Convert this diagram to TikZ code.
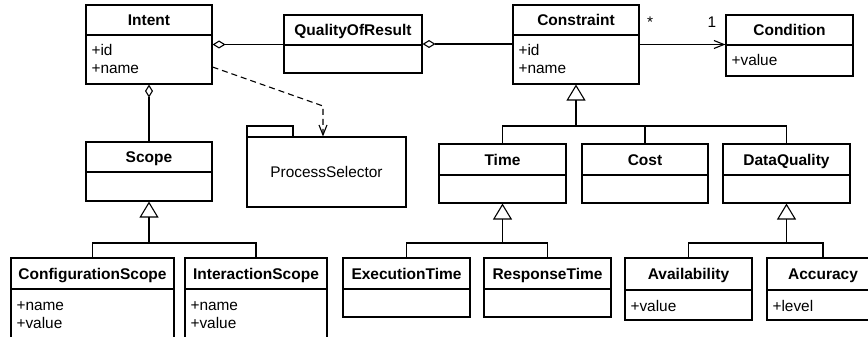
\documentclass[tikz,border=0pt]{standalone}
\usepackage{fontspec}
\setmainfont{Liberation Sans}
\usetikzlibrary{arrows.meta,fit,calc}
\newcommand\umlcls[7]{% name, x1,y1,x2,y2, ysep, title
  \node[cls, fit={(#2,#3) (#4,#5)}] (#1) {};
  \draw (#2,#6) -- (#4,#6);
  \node[ttl] (#1-t) at ($(#2,#3)!0.5!(#4,#6)+(0,5.7)$) {#7};
}
\begin{document}
\begin{tikzpicture}[x=1pt,y=-1pt, line width=1.1pt,
  cls/.style={draw, inner sep=0pt, line width=1.1pt},
  ttl/.style={font=\fontsize{15.5}{18}\selectfont\bfseries, anchor=base, inner sep=0pt},
  att/.style={font=\fontsize{15.4}{18}\selectfont, anchor=base west, inner sep=0pt},
  lbl/.style={font=\fontsize{15.4}{18}\selectfont, anchor=base, inner sep=0pt},
  agg/.style={{Diamond[open,length=13pt,width=8pt]}-},
  gen/.style={-{Triangle[open,length=16pt,width=19pt]}},
  nav/.style={-{Straight Barb[length=10pt,width=8pt]}},
  dep/.style={dash pattern=on 6pt off 4pt, -{Straight Barb[length=10pt,width=8pt]}}]
\clip (0,0) rectangle (868,337);
% classes
\umlcls{Intent}{86}{5}{212}{84}{35}{Intent}
\node[att] (Intent-a1) at (91,55.5) {+id};
\node[att] (Intent-a2) at (91,73.5) {+name};
\umlcls{QoR}{284}{15}{422}{73}{45}{QualityOfResult}
\umlcls{Constraint}{513}{5}{639}{84}{35}{Constraint}
\node[att] (Constraint-a1) at (518,55.5) {+id};
\node[att] (Constraint-a2) at (518,73.5) {+name};
\umlcls{Condition}{726}{15}{853}{76}{45}{Condition}
\node[att] (Condition-a1) at (731,65.5) {+value};
\umlcls{Scope}{86}{142}{212}{201}{172}{Scope}
\umlcls{Time}{439}{144}{566}{203}{175}{Time}
\umlcls{Cost}{582}{144}{708}{203}{175}{Cost}
\umlcls{DQ}{723}{144}{850}{203}{175}{DataQuality}
\umlcls{CS}{11}{258}{174}{350}{289}{ConfigurationScope}
\node[att] (CS-a1) at (16,310) {+name};
\node[att] (CS-a2) at (16,328) {+value};
\umlcls{IS}{185}{258}{327}{350}{289}{InteractionScope}
\node[att] (IS-a1) at (190,310) {+name};
\node[att] (IS-a2) at (190,328) {+value};
\umlcls{ET}{343}{258}{470}{317}{289}{ExecutionTime}
\umlcls{RT}{484}{258}{611}{317}{289}{ResponseTime}
\umlcls{Av}{625}{258}{752}{320}{290}{Availability}
\node[att] (Av-a1) at (630,311) {+value};
\umlcls{Acc}{767}{258}{879}{320}{290}{Accuracy}
\node[att] (Acc-a1) at (772,311) {+level};
% package
\node[cls, fit={(247,126) (293,137)}] (pstab) {};
\node[cls, fit={(247,137) (406,207)}] (ps) {};
\node[font=\fontsize{15.4}{18}\selectfont, inner sep=0pt] (ps-t) at (ps.center) {ProcessSelector};
% associations
\draw[agg] (Intent.east) -- (Intent.east -| QoR.west);
\draw[agg] (QoR.east) -- (QoR.east -| Constraint.west);
\draw[nav] (Constraint.east) -- (Constraint.east -| Condition.west);
\node[lbl] (m1) at (650,28) {*};
\node[lbl] (m2) at (712,28) {1};
\draw[agg] (Intent.south) -- (Scope.north);
\coordinate (d1) at (323,106);
\draw[dep] (Intent.east |- 0,67) -- (d1) -- (d1 |- ps.north);
% generalizations
\coordinate (jS) at (149,243);
\draw[gen] (jS) -- (Scope.south);
\draw (CS.north) |- (jS) -| (IS.north);
\coordinate (jC) at (576,126);
\draw[gen] (jC) -- (Constraint.south);
\draw (Time.north) |- (jC) -| (DQ.north);
\draw (Cost.north) -- (Cost.north |- jC);
\coordinate (jT) at (502.5,243);
\draw[gen] (jT) -- (Time.south);
\draw (ET.north) |- (jT) -| (RT.north);
\coordinate (jD) at (786.5,243);
\draw[gen] (jD) -- (DQ.south);
\draw (Av.north) |- (jD) -| (Acc.north);
\end{tikzpicture}
\end{document}
